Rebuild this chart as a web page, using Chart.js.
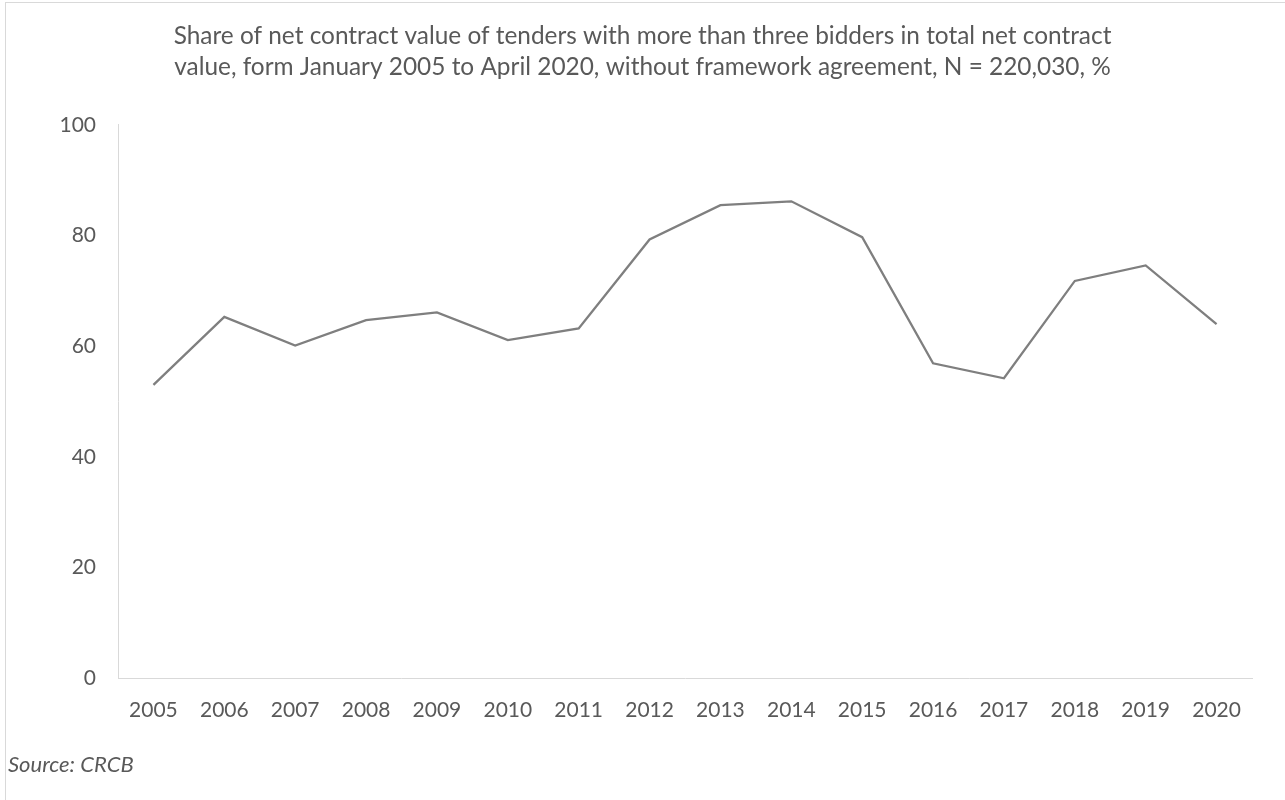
<!DOCTYPE html>
<html>
<head>
<meta charset="utf-8">
<title>Share of net contract value</title>
<script src="https://cdn.jsdelivr.net/npm/chart.js@4"></script>
<style>
  html, body { margin: 0; padding: 0; background: #fff; overflow: hidden; }
  #wrap { position: relative; width: 1285px; height: 800px; }
  #frame { position: absolute; left: 5px; top: 2px; width: 1300px; height: 820px; border: 1px solid #d9d9d9; box-sizing: border-box; pointer-events: none; }
  #chart { position: absolute; left: 0; top: 0; }
  #source { position: absolute; left: 8px; top: 750px; font: italic 22px Lato, sans-serif; color: #595959; }
</style>
</head>
<body>
<div id="wrap">
  <div id="frame"></div>
  <canvas id="chart" width="1285" height="800"></canvas>
  <div id="source">Source: CRCB</div>
</div>
<script>
// Data
const years = ["2005", "2006", "2007", "2008", "2009", "2010", "2011", "2012",
               "2013", "2014", "2015", "2016", "2017", "2018", "2019", "2020"];
const shareValues = [53.0, 65.3, 60.1, 64.7, 66.1, 61.1, 63.2, 79.3,
                     85.5, 86.2, 79.7, 56.9, 54.2, 71.8, 74.6, 64.0];
const yRange = [0, 100];
const yStep = 20;
const titleLines = [
  "Share of net contract value of tenders with more than three bidders in total net contract",
  "value, form January 2005 to April 2020, without framework agreement, N = 220,030, %"
];

const textColor = "#595959";
const axisColor = "#d9d9d9";
const fontFamily = "Lato, 'Open Sans', sans-serif";

const ctx = document.getElementById("chart").getContext("2d");
new Chart(ctx, {
  type: "line",
  data: {
    labels: years,
    datasets: [{
      data: shareValues,
      borderColor: "#7f7f7f",
      borderWidth: 2.3,
      pointRadius: 0,
      tension: 0,
      fill: false,
    }],
  },
  options: {
    responsive: false,
    animation: false,
    layout: { padding: { top: 0, left: 0, right: 0, bottom: 72 } },
    plugins: {
      legend: { display: false },
      tooltip: { enabled: false },
      title: {
        display: true,
        text: titleLines,
        color: textColor,
        font: { family: fontFamily, size: 24.4, weight: "normal", lineHeight: 1.27 },
        padding: { top: 21, bottom: 42 },
      },
    },
    scales: {
      x: {
        offset: true,
        grid: { display: false, drawTicks: false },
        border: { display: true, color: axisColor, width: 1 },
        ticks: { color: textColor, font: { family: fontFamily, size: 21 }, padding: 20, maxRotation: 0 },
        afterFit: s => { s.height = 50; },
      },
      y: {
        min: yRange[0],
        max: yRange[1],
        grid: { display: false, drawTicks: false },
        border: { display: true, color: axisColor, width: 1 },
        ticks: { stepSize: yStep, color: textColor, font: { family: fontFamily, size: 21 }, padding: 22 },
        afterFit: s => { s.width = 118; },
      },
      // empty right margin so the title stays centred on the whole page
      spacer: {
        type: "linear",
        position: "right",
        grid: { display: false, drawTicks: false },
        border: { display: false },
        ticks: { display: false },
        afterFit: s => { s.width = 33; },
      },
    },
  },
});
</script>
</body>
</html>
